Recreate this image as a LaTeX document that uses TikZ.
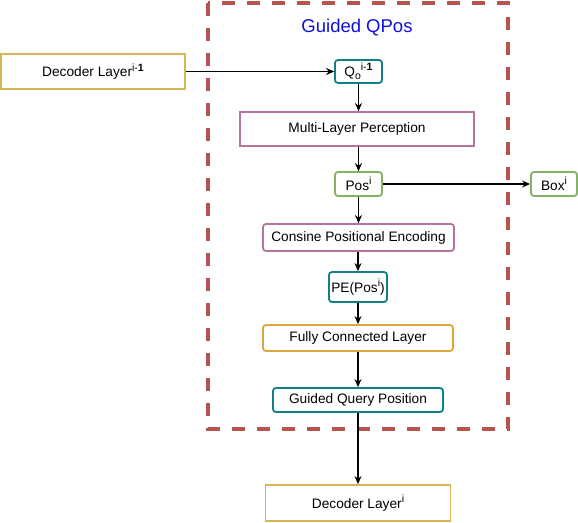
\documentclass[tikz,border=0pt]{standalone}
\usepackage{fontspec}
\setmainfont{Liberation Sans}
\usetikzlibrary{arrows.meta}
\definecolor{dred}{HTML}{B85450}
\definecolor{dyel}{HTML}{D6B656}
\definecolor{dteal}{HTML}{0E8088}
\definecolor{dpink}{HTML}{B5739D}
\definecolor{dgreen}{HTML}{82B366}
\definecolor{dorange}{HTML}{DBA63A}
\definecolor{dblue}{HTML}{1010DD}
\newcommand\mysup[1]{\raisebox{0.42em}{\fontsize{10.5}{12}\selectfont #1}}
\newcommand\mysub[1]{\raisebox{-0.22em}{\fontsize{10.5}{12}\selectfont #1}}
\tikzset{
  box/.style={draw, line width=1.8pt, inner sep=0pt, fill=white, align=center,
    font=\fontsize{13.7}{16}\selectfont},
  rbox/.style={box, rounded corners=3pt},
  arr/.style={-{Stealth[length=8pt,width=7pt,inset=2.5pt]}, line width=1.1pt, black},
}
\begin{document}
\begin{tikzpicture}[x=1pt,y=-1pt]
\useasboundingbox (0,0) rectangle (578,522);
% dashed group
\draw[dred, line width=4pt, dash pattern=on 13pt off 12pt] (208,3) rectangle (508,429);
\node[font=\fontsize{18.5}{22}\selectfont, text=dblue] (title) at (357,27.5) {Guided QPos};
% nodes
\node[box, draw=dyel, minimum width=184pt, minimum height=35pt] (dec1) at (93,71.5) {\raisebox{-2pt}{Decoder Layer\mysup{i-\textbf{1}}}};
\node[rbox, draw=dteal, minimum width=47pt, minimum height=23pt] (q) at (358.5,71.5) {Q\mysub{o}\mysup{i-\textbf{1}}};
\node[box, draw=dpink, minimum width=234pt, minimum height=34pt] (mlp) at (357,129) {Multi-Layer Perception};
\node[rbox, draw=dgreen, minimum width=47pt, minimum height=24pt] (pos) at (358.5,184) {Pos\mysup{i}};
\node[rbox, draw=dgreen, minimum width=46pt, minimum height=24pt] (boxi) at (554,184) {Box\mysup{i}};
\node[rbox, draw=dpink, minimum width=191pt, minimum height=27pt] (cpe) at (358.5,237.5) {Consine Positional Encoding};
\node[rbox, draw=dteal, minimum width=58pt, minimum height=30pt] (pe) at (358,287) {PE(Pos\mysup{i})};
\node[rbox, draw=dorange, minimum width=190pt, minimum height=26pt] (fc) at (358,338) {Fully Connected Layer};
\node[rbox, draw=dteal, minimum width=170pt, minimum height=24pt] (gqp) at (358,400) {Guided Query Position};
\node[box, draw=dyel, minimum width=185pt, minimum height=36pt] (dec2) at (358,503) {Decoder Layer\mysup{i}};
% connectors
\draw[arr] (dec1.east) -- (q.west);
\draw[arr] (q.south) -- (q.south |- mlp.north);
\draw[arr] (mlp.south -| pos.north) -- (pos.north);
\draw[arr] (pos.east) -- (boxi.west);
\draw[arr] (pos.south) -- (pos.south |- cpe.north);
\draw[arr] (cpe.south -| pe.north) -- (pe.north);
\draw[arr] (pe.south) -- (pe.south |- fc.north);
\draw[arr] (fc.south) -- (gqp.north);
\draw[arr] (gqp.south) -- (dec2.north);
\end{tikzpicture}
\end{document}
